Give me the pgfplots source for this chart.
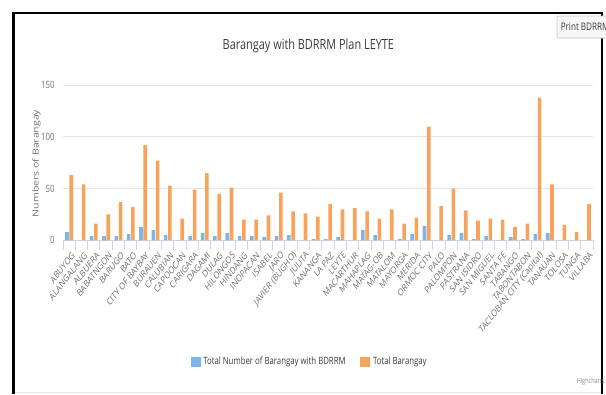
\documentclass[border=0pt]{standalone}
\usepackage{fontspec}
\setmainfont{Open Sans}
\newfontfamily\condfont[FakeStretch=0.78]{Open Sans}
\usepackage{pgfplots}
\usepackage{pgfplotstable}
\pgfplotsset{compat=1.18}

\definecolor{hcblue}{HTML}{7CB5EC}
\definecolor{hcorange}{HTML}{F7A35C}
\definecolor{gridc}{HTML}{E6E6E6}
\definecolor{axisc}{HTML}{CCD6EB}
\definecolor{labc}{HTML}{707070}
\definecolor{titlec}{HTML}{3A3A3A}

% municipalities of Leyte: barangays with a BDRRM plan, and all barangays
\pgfplotstableread{
idx with total
0  8  63
1  0  54
2  4  16
3  4  25
4  4  37
5  6  32
6  13 92
7  10 77
8  5  53
9  0  21
10 4  49
11 7  65
12 4  45
13 7  51
14 4  20
15 4  20
16 3  24
17 4  46
18 5  28
19 0  26
20 1  23
21 1  35
22 3  30
23 0  31
24 10 28
25 5  21
26 0  30
27 1  16
28 6  22
29 14 110
30 0  33
31 5  50
32 7  29
33 1  19
34 4  21
35 0  20
36 3  13
37 1  16
38 6  138
39 7  54
40 0  15
41 0  8
42 0  35
}\leyte

\begin{document}
\begin{tikzpicture}[x=0.75pt,y=0.75pt]
\path[use as bounding box] (0,0) rectangle (606,394);

% page frame
\draw[black, line width=2.25pt] (13.5,0) -- (13.5,382.5);
\draw[black, line width=1.5pt] (12.4,381.5) -- (602.5,381.5);
\draw[black, line width=1.5pt] (601.5,382.5) -- (601.5,0);
\draw[gridc, line width=1.2pt] (15,1.6) -- (600.5,1.6);

\begin{axis}[
  at={(47.25pt,115.3pt)}, anchor=south west,
  scale only axis, width=397.5pt, height=116.25pt,
  ybar, bar width=2.7pt,
  xmin=-0.5, xmax=42.5, ymin=0, ymax=150,
  xtick={0,...,42},
  xticklabels={ABUYOG, ALANGALANG, ALBUERA, BABATNGON, BARUGO, BATO,
    CITY OF BAYBAY, BURAUEN, CALUBIAN, CAPOOCAN, CARIGARA, DAGAMI, DULAG,
    HILONGOS, HINDANG, INOPACAN, ISABEL, JARO, JAVIER (BUGHO), JULITA,
    KANANGA, LA PAZ, LEYTE, MACARTHUR, MAHAPLAG, MATAG-OB, MATALOM,
    MAYORGA, MERIDA, ORMOC CITY, PALO, PALOMPON, PASTRANA, SAN ISIDRO,
    SAN MIGUEL, SANTA FE, TABANGO, TABONTABON, TACLOBAN CITY (Capital),
    TANAUAN, TOLOSA, TUNGA, VILLABA},
  minor xtick={-0.5,0.5,...,42.5},
  ytick={0,50,100,150},
  axis x line*=bottom, axis y line*=left,
  y axis line style={draw=none},
  x axis line style={draw=axisc, line width=0.75pt},
  major x tick style={draw=none},
  minor x tick style={draw=axisc, line width=0.75pt},
  ytick style={draw=none},
  tick align=outside,
  minor tick length=7pt,
  ymajorgrids, grid style={draw=gridc, line width=0.75pt},
  /pgf/number format/assume math mode=true,
  yticklabel style={font=\condfont\fontsize{7.5}{9}\selectfont, text=labc, xshift=1.5pt},
  xticklabel style={font=\fontsize{7.3}{8.5}\selectfont, text=labc,
    xscale=0.78, rotate=45, anchor=east, inner sep=1pt, yshift=-7pt},
  title={Barangay with BDRRM Plan LEYTE},
  title style={at={(axis description cs:0.463,1.202)}, anchor=center,
    font=\condfont\fontsize{10.5}{12}\selectfont, text=titlec},
  ylabel={Numbers of Barangay},
  every axis y label/.style={at={(axis description cs:-0.05,0.496)},
    anchor=center, rotate=90, yscale=0.78,
    font=\fontsize{7.9}{9}\selectfont, text=labc},
  legend columns=2,
  legend style={at={(axis description cs:0.466,-0.785)}, anchor=center,
    draw=none, fill=none, font=\condfont\fontsize{7.5}{9}\selectfont,
    text=titlec, inner sep=0pt,
    /tikz/every even column/.append style={column sep=9pt}},
  legend image code/.code={\fill[#1] (0pt,-3.5pt) rectangle (7.5pt,3.5pt);},
]
\addplot[fill=hcblue, draw=none, bar shift=-1.6pt] table[x=idx, y=with] {\leyte};
\addlegendentry{Total Number of Barangay with BDRRM}
\addplot[fill=hcorange, draw=none, bar shift=1.6pt] table[x=idx, y=total] {\leyte};
\addlegendentry{Total Barangay}
\end{axis}

% export button and credit line
\draw[fill=black!3, draw=black!22, rounded corners=1.5pt] (557,378) rectangle (616,356);
\node[anchor=west, inner sep=0pt, text=titlec, font=\condfont\fontsize{7.8}{9}\selectfont] at (560.5,367) {Print BDRRM};
\node[anchor=west, inner sep=0pt, text=black!45, font=\condfont\fontsize{5.3}{6}\selectfont] at (576.5,12.5) {Highcharts};
\end{tikzpicture}
\end{document}
